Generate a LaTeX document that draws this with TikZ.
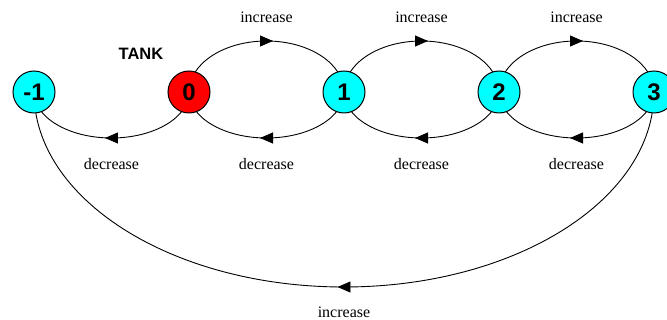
\documentclass[tikz,border=0pt]{standalone}
\usepackage{fontspec}
\setmainfont{Liberation Serif}
\newfontfamily\nodefont{Liberation Sans}
\usetikzlibrary{arrows.meta,decorations.markings,backgrounds}
\definecolor{statecyan}{RGB}{0,255,255}
\definecolor{statered}{RGB}{255,0,0}
\tikzset{
 state/.style={circle, draw=black, line width=1pt, minimum size=42pt, inner sep=0pt,
   font=\nodefont\bfseries\fontsize{24}{24}\selectfont},
 edge/.style={draw=black, line width=0.9pt, postaction={decorate},
   decoration={markings, mark=at position 0.5 with {\arrow[xshift=6.5pt]{Triangle[length=13pt,width=11pt]}}}},
 lbl/.style={font=\fontsize{16}{16}\selectfont, inner sep=0pt},
 titlelbl/.style={font=\nodefont\bfseries\fontsize{16.5}{16.5}\selectfont, inner sep=0pt},
}
\begin{document}
\begin{tikzpicture}[x=1pt,y=1pt]
\useasboundingbox (0,0) rectangle (667,-320);
\node[state, fill=statecyan] (m1) at (34,-92) {-1};
\node[state, fill=statered] (n0) at (189,-92) {0};
\node[state, fill=statecyan] (n1) at (344,-92) {1};
\node[state, fill=statecyan] (n2) at (499,-92) {2};
\node[state, fill=statecyan] (n3) at (654,-92) {3};
\node[titlelbl] (tank) at (141,-54) {TANK};
\begin{scope}[on background layer]
\path[edge] (n0.center) arc[start angle=180, end angle=0, x radius=77.5, y radius=51];
\path[edge] (n1.center) arc[start angle=180, end angle=0, x radius=77.5, y radius=51];
\path[edge] (n2.center) arc[start angle=180, end angle=0, x radius=77.5, y radius=51];
\path[edge] (n0.center) arc[start angle=0, end angle=-180, x radius=77.5, y radius=46];
\path[edge] (n1.center) arc[start angle=0, end angle=-180, x radius=77.5, y radius=46];
\path[edge] (n2.center) arc[start angle=0, end angle=-180, x radius=77.5, y radius=46];
\path[edge] (n3.center) arc[start angle=0, end angle=-180, x radius=77.5, y radius=46];
\path[edge] (n3.center) arc[start angle=0, end angle=-180, x radius=310, y radius=195];
\end{scope}
\node[lbl] (i01) at (266.5,-17) {increase};
\node[lbl] (i12) at (421.5,-17) {increase};
\node[lbl] (i23) at (576.5,-17) {increase};
\node[lbl] (d0) at (111.5,-164) {decrease};
\node[lbl] (d1) at (266.5,-164) {decrease};
\node[lbl] (d2) at (421.5,-164) {decrease};
\node[lbl] (d3) at (576.5,-164) {decrease};
\node[lbl] (i3m) at (344,-312) {increase};
\end{tikzpicture}
\end{document}
